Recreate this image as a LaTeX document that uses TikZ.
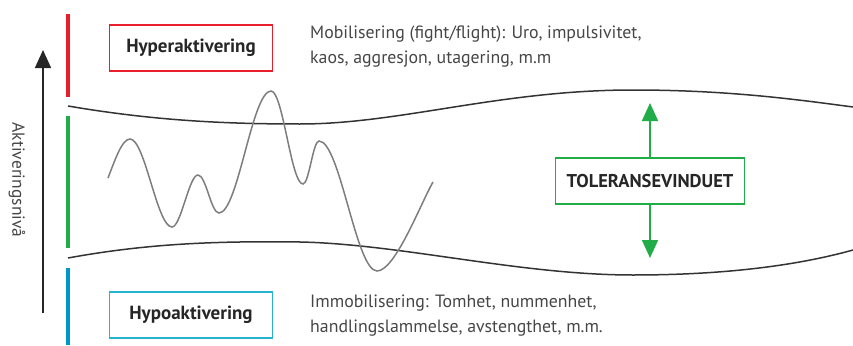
\documentclass[tikz,border=0pt]{standalone}
\usepackage{fontspec}
\setmainfont{PT Sans}
\usetikzlibrary{arrows.meta}
\definecolor{hyperred}{RGB}{232,30,42}
\definecolor{tolgreen}{RGB}{34,172,72}
\definecolor{hypoblue}{RGB}{0,150,200}
\definecolor{hypocyan}{RGB}{40,178,210}
\definecolor{darktext}{RGB}{70,70,70}
\definecolor{wavegray}{RGB}{125,125,125}

\begin{document}
\begin{tikzpicture}[x=1pt,y=-1pt,
  bar/.style={line width=4pt},
  lvlbox/.style={draw,line width=1.6pt,minimum width=163pt,minimum height=46pt,text=black!85,font=\bfseries\fontsize{19}{22}\selectfont},
  desc/.style={align=left,anchor=west,inner sep=0pt,text=darktext,font=\fontsize{17.8}{25}\selectfont},
  limit/.style={line width=1.5pt,draw=black!80},
  tip/.style={-{Triangle[length=18pt,width=16pt]}}]
\useasboundingbox (0,0) rectangle (853,345);
\draw[bar,hyperred] (68,14) -- (68,97);
\draw[bar,tolgreen] (68,116) -- (68,248);
\draw[bar,hypoblue] (68,268) -- (68,345);
\coordinate (lvlbot) at (43,313);
\coordinate (lvltop) at (43,50);
\draw[tip,line width=1.6pt,black!85] (lvlbot) -- (lvltop);
\node[rotate=-90,text=darktext,font=\fontsize{17.5}{20}\selectfont] (lvl) at (17,180) {Aktiveringsnivå};
\node[lvlbox,draw=hyperred] (hyper) at (191,48) {Hyperaktivering};
\node[lvlbox,draw=hypocyan] (hypo) at (191,315) {Hypoaktivering};
\node[desc] (mob) at (310,47) {Mobilisering (fight/flight): Uro, impulsivitet,\\kaos, aggresjon, utagering, m.m};
\node[desc] (immob) at (310,316) {Immobilisering: Tomhet, nummenhet,\\handlingslammelse, avstengthet, m.m.};
\draw[limit] (68,106) .. controls (150,120) and (220,124) .. (300,124) .. controls (400,124) and (500,90) .. (633,90) .. controls (730,90) and (800,100) .. (853,107);
\draw[limit] (68,258) .. controls (150,243) and (220,241) .. (300,242) .. controls (400,244) and (520,275) .. (633,275) .. controls (740,275) and (810,262) .. (853,250);
\draw[line width=1.5pt,wavegray] (108,178) .. controls (115,160) and (122,139) .. (130,139)
  .. controls (145,139) and (157,227) .. (172,227)
  .. controls (181,227) and (189,175) .. (198,175)
  .. controls (206,175) and (211,213) .. (219,213)
  .. controls (238,213) and (252,91) .. (271,91)
  .. controls (283,91) and (291,184) .. (303,184)
  .. controls (309,184) and (313,141) .. (319,141)
  .. controls (340,141) and (356,271) .. (377,271)
  .. controls (395,271) and (420,205) .. (433,182);
\node[lvlbox,draw=tolgreen,minimum width=189pt,font=\bfseries\fontsize{18.5}{22}\selectfont] (tol) at (650,181) {TOLERANSEVINDUET};
\coordinate (tolup) at (650,103);
\coordinate (toldown) at (650,258);
\draw[tip,line width=1.6pt,tolgreen] (tol.north) -- (tolup);
\draw[tip,line width=1.6pt,tolgreen] (tol.south) -- (toldown);
\end{tikzpicture}
\end{document}
